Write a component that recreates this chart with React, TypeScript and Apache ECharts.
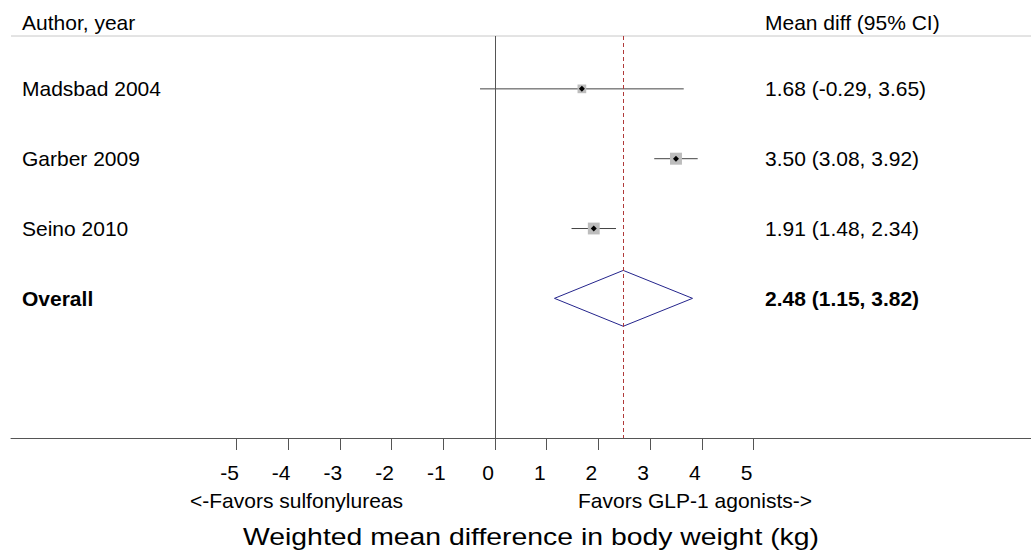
import React, { useEffect, useRef } from "react";
import * as echarts from "echarts";

const studies = ["Madsbad 2004", "Garber 2009", "Seino 2010"];
const meanDiff = [1.68, 3.5, 1.91];
const ciLow = [-0.29, 3.08, 1.48];
const ciHigh = [3.65, 3.92, 2.34];
const weights = [21, 40, 39];
const overallLabel = "Overall";
const overallEst = 2.48;
const overallLow = 1.15;
const overallHigh = 3.82;
const xTicks = [-5, -4, -3, -2, -1, 0, 1, 2, 3, 4, 5];
const headerLeft = "Author, year";
const headerRight = "Mean diff (95% CI)";
const favorsLeft = "<-Favors sulfonylureas";
const favorsRight = "Favors GLP-1 agonists->";
const xTitle = "Weighted mean difference in body weight (kg)";

const FONT = "'Liberation Sans', Arial, Helvetica, sans-serif";
const fmt = (m: number, lo: number, hi: number) =>
  `${m.toFixed(2)} (${lo.toFixed(2)}, ${hi.toFixed(2)})`;

export default function App() {
  const ref = useRef<HTMLDivElement>(null);
  useEffect(() => {
    if (!ref.current) return;
    const chart = echarts.init(ref.current, undefined, { renderer: "svg" });

    const rows = studies.map((s, i) => ({
      name: s,
      row: i,
      m: meanDiff[i],
      lo: ciLow[i],
      hi: ciHigh[i],
      w: weights[i],
      bold: false,
    }));
    const overallRow = studies.length;
    const textRows = [
      ...rows,
      { name: overallLabel, row: overallRow, m: overallEst, lo: overallLow, hi: overallHigh, w: 0, bold: true },
    ];

    const option: any = {
      animation: false,
      backgroundColor: "#ffffff",
      grid: { left: 11, right: 0, top: 36, bottom: 112, containLabel: false },
      xAxis: {
        type: "value",
        min: -9.362,
        max: 10.367,
        axisLine: { show: true, onZero: false, lineStyle: { color: "#555555", width: 1 } },
        axisTick: {
          show: true,
          customValues: xTicks,
          length: 12,
          lineStyle: { color: "#555555", width: 1 },
        },
        axisLabel: {
          show: true,
          customValues: xTicks,
          margin: 34,
          verticalAlign: "middle",
          padding: [0, 14, 0, 0],
          color: "#000000",
          fontSize: 21,
          fontFamily: FONT,
        },
        splitLine: { show: false },
      },
      yAxis: {
        type: "value",
        inverse: true,
        min: -0.757,
        max: 5,
        show: false,
      },
      series: [
        {
          type: "scatter",
          data: [],
          silent: true,
          markLine: {
            silent: true,
            symbol: "none",
            label: { show: false },
            data: [
              { xAxis: 0, lineStyle: { color: "#555555", width: 1, type: "solid" } },
              { xAxis: overallEst, lineStyle: { color: "#b03a3a", width: 1, type: [4, 3] } },
            ],
          },
        },
        {
          type: "custom",
          z: 3,
          silent: true,
          data: rows.map((r) => [r.lo, r.hi, r.row]),
          renderItem: (params: any, api: any) => {
            const a = api.coord([api.value(0), api.value(2)]);
            const b = api.coord([api.value(1), api.value(2)]);
            return {
              type: "line",
              shape: { x1: a[0], y1: a[1], x2: b[0], y2: b[1] },
              style: { stroke: "#444444", lineWidth: 1 },
            };
          },
        },
        {
          type: "scatter",
          z: 4,
          silent: true,
          symbol: "rect",
          symbolSize: (v: number[]) => 12 * Math.sqrt(v[2] / 40),
          itemStyle: { color: "#bdbdbd", opacity: 1 },
          data: rows.map((r) => [r.m, r.row, r.w]),
        },
        {
          type: "scatter",
          z: 5,
          silent: true,
          symbol: "diamond",
          symbolSize: 6,
          itemStyle: { color: "#000000", opacity: 1 },
          data: rows.map((r) => [r.m, r.row]),
        },
        {
          type: "custom",
          z: 4,
          silent: true,
          data: [[overallLow, overallEst, overallHigh, overallRow]],
          renderItem: (params: any, api: any) => {
            const r = api.value(3);
            const p1 = api.coord([api.value(0), r]);
            const p2 = api.coord([api.value(1), r - 0.4]);
            const p3 = api.coord([api.value(2), r]);
            const p4 = api.coord([api.value(1), r + 0.4]);
            return {
              type: "polygon",
              shape: { points: [p1, p2, p3, p4] },
              style: { fill: "none", stroke: "#24248c", lineWidth: 1 },
            };
          },
        },
        {
          type: "custom",
          z: 6,
          silent: true,
          data: textRows.map((r, i) => [r.row, i]),
          renderItem: (params: any, api: any) => {
            const r = textRows[api.value(1)];
            const y = api.coord([0, api.value(0)])[1];
            const font = `${r.bold ? "bold " : ""}21px ${FONT}`;
            return {
              type: "group",
              children: [
                {
                  type: "text",
                  x: 22,
                  y: y,
                  style: { text: r.name, font, fill: "#000000", align: "left", verticalAlign: "middle" },
                },
                {
                  type: "text",
                  x: 765,
                  y: y,
                  style: { text: fmt(r.m, r.lo, r.hi), font, fill: "#000000", align: "left", verticalAlign: "middle" },
                },
              ],
            };
          },
        },
      ],
      graphic: [
        {
          type: "line",
          shape: { x1: 11, y1: 36, x2: 1031, y2: 36 },
          style: { stroke: "#c8c8c8", lineWidth: 1 },
          z: 1,
        },
        {
          type: "text",
          x: 22,
          y: 22,
          style: { text: headerLeft, font: `21px ${FONT}`, fill: "#000000", align: "left", verticalAlign: "middle" },
        },
        {
          type: "text",
          x: 765,
          y: 22,
          style: { text: headerRight, font: `21px ${FONT}`, fill: "#000000", align: "left", verticalAlign: "middle" },
        },
        {
          type: "text",
          x: 190,
          y: 500,
          style: { text: favorsLeft, font: `21px ${FONT}`, fill: "#000000", align: "left", verticalAlign: "middle" },
        },
        {
          type: "text",
          x: 578,
          y: 500,
          style: { text: favorsRight, font: `21px ${FONT}`, fill: "#000000", align: "left", verticalAlign: "middle" },
        },
        {
          type: "text",
          x: 243,
          y: 537,
          scaleX: 1.29,
          scaleY: 1.05,
          style: { text: xTitle, font: `22px ${FONT}`, fill: "#000000", align: "left", verticalAlign: "middle" },
        },
      ],
    };

    chart.setOption(option);
    return () => chart.dispose();
  }, []);

  return (
    <div
      ref={ref}
      style={{ position: "absolute", left: 0, top: 0, width: 1031, height: 550 }}
    />
  );
}
